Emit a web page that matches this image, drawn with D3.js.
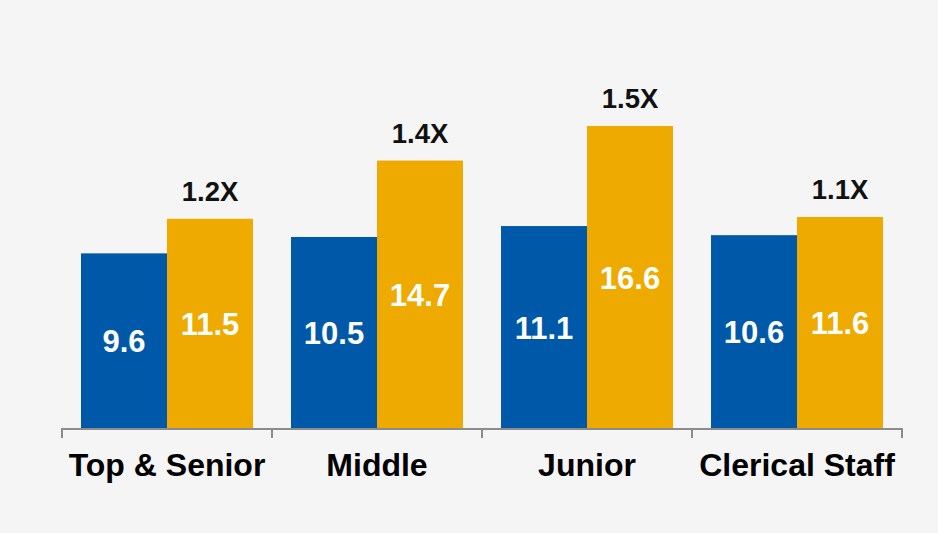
<!DOCTYPE html>
<html>
<head>
<meta charset="utf-8">
<script src="https://cdn.jsdelivr.net/npm/d3@7"></script>
<style>
  html, body { margin: 0; padding: 0; background: #f5f5f5; }
  svg { display: block; }
  text { font-family: "Liberation Sans", Arial, sans-serif; font-weight: bold; }
</style>
</head>
<body>
<svg id="chart" width="938" height="533"></svg>
<script>
// Grade levels and the two compared values per grade
const categories = ["Top & Senior", "Middle", "Junior", "Clerical Staff"];
const seriesBlue = [9.6, 10.5, 11.1, 10.6];
const seriesGold = [11.5, 14.7, 16.6, 11.6];
const ratioLabels = ["1.2X", "1.4X", "1.5X", "1.1X"];

const W = 938, H = 533;
const margin = { left: 62, right: 36, top: 20, bottom: 105 };
const svg = d3.select("#chart");

svg.append("rect").attr("width", W).attr("height", H).attr("fill", "#f5f5f5");

const x = d3.scaleBand()
  .domain(categories)
  .range([margin.left, W - margin.right])
  .paddingInner(0)
  .paddingOuter(0);

const baseY = H - margin.bottom;
const y = d3.scaleLinear().domain([0, 16.6]).range([baseY, 126]);

// Two adjacent bars per category, with a gap on either side
const inner = d3.scaleBand()
  .domain(["blue", "gold"])
  .range([0, x.bandwidth()])
  .paddingInner(0)
  .paddingOuter(0.221);

const colors = { blue: "#0059a8", gold: "#efaa00" };

const rows = categories.map((c, i) => ({
  cat: c,
  vals: [{ key: "blue", v: seriesBlue[i] }, { key: "gold", v: seriesGold[i] }],
  ratio: ratioLabels[i]
}));

const g = svg.append("g");
const groups = g.selectAll("g.cat").data(rows).join("g")
  .attr("class", "cat")
  .attr("transform", d => `translate(${x(d.cat)},0)`);

groups.selectAll("rect").data(d => d.vals).join("rect")
  .attr("x", d => inner(d.key))
  .attr("width", inner.bandwidth())
  .attr("y", d => y(d.v))
  .attr("height", d => baseY - y(d.v))
  .attr("fill", d => colors[d.key]);

// Value labels centred inside each bar
groups.selectAll("text.val").data(d => d.vals).join("text")
  .attr("class", "val")
  .attr("x", d => inner(d.key) + inner.bandwidth() / 2)
  .attr("y", d => (y(d.v) + baseY) / 2 + 11.5)
  .attr("text-anchor", "middle")
  .attr("fill", "#ffffff")
  .attr("font-size", 31)
  .text(d => d.v.toFixed(1));

// Ratio labels above the gold bars
groups.append("text")
  .attr("x", inner("gold") + inner.bandwidth() / 2)
  .attr("y", d => y(d.vals[1].v) - 18)
  .attr("text-anchor", "middle")
  .attr("fill", "#111111")
  .attr("font-size", 27.5)
  .text(d => d.ratio);

// Category axis with tick marks at band boundaries
const axis = svg.append("g");
axis.append("line")
  .attr("x1", x.range()[0]).attr("x2", x.range()[1])
  .attr("y1", baseY + 1).attr("y2", baseY + 1)
  .attr("stroke", "#8c8c8c").attr("stroke-width", 2);

const bounds = categories.map(c => x(c)).concat([x.range()[1]]);
axis.selectAll("line.tick").data(bounds).join("line")
  .attr("class", "tick")
  .attr("x1", d => d).attr("x2", d => d)
  .attr("y1", baseY).attr("y2", baseY + 10)
  .attr("stroke", "#8c8c8c").attr("stroke-width", 2);

axis.selectAll("text").data(categories).join("text")
  .attr("x", d => x(d) + x.bandwidth() / 2)
  .attr("y", baseY + 48)
  .attr("text-anchor", "middle")
  .attr("fill", "#000000")
  .attr("font-size", 32)
  .text(d => d);
</script>
</body>
</html>
